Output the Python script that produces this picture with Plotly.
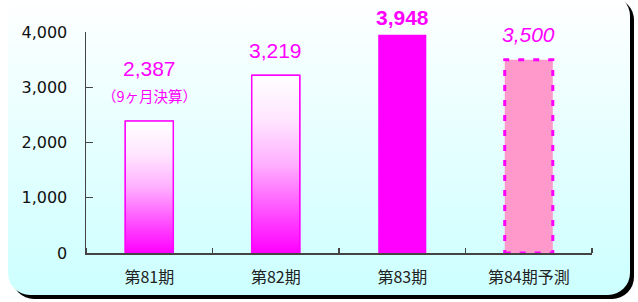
import base64
import plotly.graph_objects as go

# ---- data ----
categories = ["第81期", "第82期", "第83期", "第84期予測"]
values = [2387, 3219, 3948, 3500]
notes = ["（9ヶ月決算）", "", "", ""]
y_ticks = [0, 1000, 2000, 3000, 4000]

# ---- styling ----
W, H = 638, 302
L, R, T, B = 86, 46, 32, 49
BAR_W = 0.38
MAG = "#ff00ff"
PINK = "#ff99cc"
bar_kind = ["gradient", "gradient", "solid", "forecast"]
label_shift = [53, 25, 17, 25]
note_shift = 26

idx = list(range(len(categories)))

fig = go.Figure()

# background rounded panel with shadow (decoration)
svg = f'''<svg xmlns="http://www.w3.org/2000/svg" width="{W}" height="{H}" viewBox="0 0 {W} {H}">
<defs><linearGradient id="g" x1="0" y1="0" x2="0" y2="1">
<stop offset="0" stop-color="#ffffff"/><stop offset="1" stop-color="#ccffff"/></linearGradient></defs>
<rect x="12" y="-2" width="622" height="301" rx="22" ry="22" fill="#000000"/>
<rect x="8" y="-6" width="622" height="301" rx="22" ry="22" fill="url(#g)"/>
</svg>'''
src = "data:image/svg+xml;base64," + base64.b64encode(svg.encode()).decode()
pw, ph = W - L - R, H - T - B

fill_colors = []
line_widths = []
for k in bar_kind:
    if k == "gradient":
        fill_colors.append("rgba(0,0,0,0)")
        line_widths.append(1)
    elif k == "solid":
        fill_colors.append(MAG)
        line_widths.append(0)
    else:
        fill_colors.append(PINK)
        line_widths.append(0)

fig.add_trace(go.Bar(
    x=idx, y=values, width=BAR_W,
    marker=dict(color=fill_colors, line=dict(color=MAG, width=line_widths)),
    hoverinfo="skip", showlegend=False,
))

# gradient fills and dashed outline, computed from the data
for i, (v, k) in enumerate(zip(values, bar_kind)):
    xs = [i - BAR_W / 2, i + BAR_W / 2, i + BAR_W / 2, i - BAR_W / 2, i - BAR_W / 2]
    ys = [0, 0, v, v, 0]
    if k == "gradient":
        fig.add_trace(go.Scatter(
            x=xs, y=ys, mode="lines", fill="toself",
            fillgradient=dict(type="vertical",
                              colorscale=[[0, "#ff00ff"], [0.2, "#ff44ff"], [0.5, "#ffb0ff"],
                                          [0.75, "#ffe6ff"], [1, "#ffffff"]]),
            line=dict(color=MAG, width=1.5),
            hoverinfo="skip", showlegend=False,
        ))
    elif k == "forecast":
        fig.add_trace(go.Scatter(
            x=xs, y=ys, mode="lines",
            line=dict(color=MAG, width=3, dash="6px,9px"),
            hoverinfo="skip", showlegend=False,
        ))

annotations = []
for i, (v, k) in enumerate(zip(values, bar_kind)):
    font = dict(family="Liberation Sans, Arial, sans-serif", size=21, color=MAG)
    if k == "solid":
        font["weight"] = "bold"
    if k == "forecast":
        font["style"] = "italic"
    annotations.append(dict(
        x=i, y=v, xref="x", yref="y", text=f"{v:,}", showarrow=False,
        yanchor="middle", yshift=label_shift[i], font=font,
    ))
    if notes[i]:
        annotations.append(dict(
            x=i, y=v, xref="x", yref="y", text=notes[i], showarrow=False,
            yanchor="middle", yshift=note_shift,
            font=dict(family="Noto Sans CJK JP, sans-serif", size=14.5, color=MAG),
        ))

fig.update_layout(
    width=W, height=H,
    margin=dict(l=L, r=R, t=T, b=B, pad=0),
    paper_bgcolor="white",
    plot_bgcolor="rgba(0,0,0,0)",
    images=[dict(source=src, xref="paper", yref="paper",
                 x=-L / pw, y=1 + T / ph, sizex=W / pw, sizey=H / ph,
                 xanchor="left", yanchor="top", sizing="stretch", layer="below")],
    annotations=annotations,
    showlegend=False,
    xaxis=dict(
        range=[-0.5, len(categories) - 0.5],
        tickmode="array", tickvals=idx, ticktext=categories,
        ticks="", showgrid=False, zeroline=False,
        showline=True, linecolor="#444444", linewidth=1.5,
        tickfont=dict(family="Noto Sans CJK JP, sans-serif", size=16, color="#222222"),
        ticklabelstandoff=9,
        minor=dict(tickmode="array", tickvals=[i - 0.5 for i in range(len(categories) + 1)],
                   ticks="inside", ticklen=5, tickcolor="#444444", tickwidth=1.2),
        fixedrange=True,
    ),
    yaxis=dict(
        range=[0, 4000], tickmode="array", tickvals=y_ticks,
        tickformat=",d", ticks="inside", ticklen=7, tickcolor="#444444", tickwidth=1.2,
        showgrid=False, zeroline=False,
        showline=True, linecolor="#444444", linewidth=1.5,
        tickfont=dict(family="DejaVu Sans, sans-serif", size=16, color="#111111"),
        ticklabelstandoff=14,
        fixedrange=True,
    ),
)

fig.write_html("out.html", config={"displayModeBar": False, "staticPlot": True},
               post_script="document.body.style.margin='0';")
